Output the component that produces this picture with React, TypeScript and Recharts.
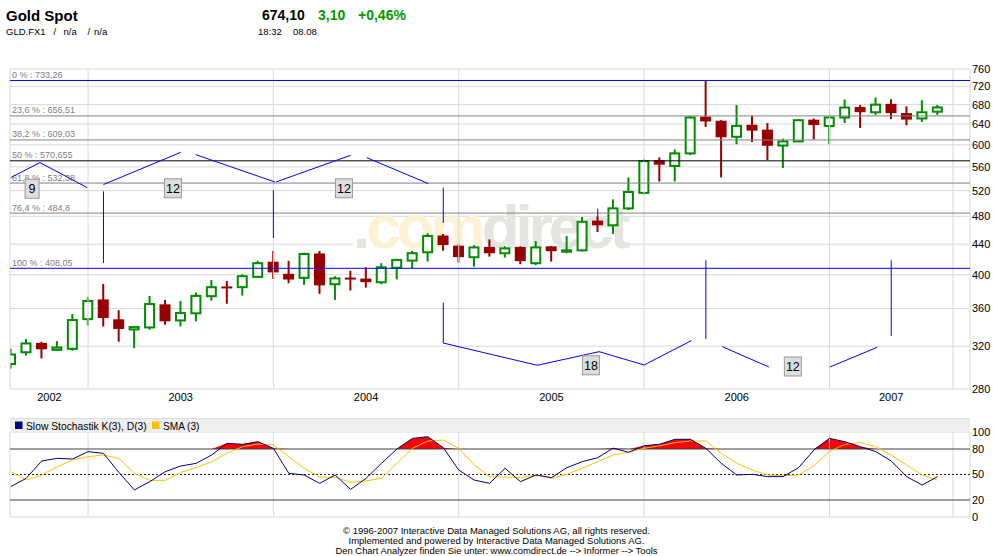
import React from 'react';
import {
  ComposedChart,
  Bar,
  Line,
  Area,
  XAxis,
  YAxis,
  CartesianGrid,
  ReferenceLine,
  ReferenceDot,
  ReferenceArea
} from 'recharts';

const FONT = '"Liberation Sans", Arial, sans-serif';
const GREEN = '#008c00';
const RED = '#990000';
const GRID = '#d8d8d8';
const BLUE = '#0000ff';

// monthly candles, index 0 = Aug 2002 ... index 60 = Aug 2007
const opens = [
  302.7, 314, 322.8, 316.4, 317.4, 348.2, 369.7, 347.5, 337.2, 339.3,
  364.1, 346.8, 354.6, 374.1, 385, 384.7, 397.3, 415.9, 400.5, 396.1,
  426.7, 388.3, 395.8, 394.6, 390.7, 408.8, 418, 429, 451.3, 437.2,
  422.4, 435.5, 427.7, 435.5, 414.6, 436.3, 429.8, 431.6, 472.8, 466.7,
  492, 516.3, 570.7, 561.6, 584.1, 654, 645.7, 615.1, 637.6, 628,
  598.6, 606.3, 647.8, 636.3, 653.3, 673.9, 664, 680.6, 661.3, 651.3, 665.2
];
const highs = [
  317.6, 327.3, 324.5, 325.2, 353.8, 373.2, 388.6, 358.1, 340, 374.4,
  369.7, 368.5, 378.3, 393.4, 392.2, 400.5, 417.8, 430.7, 417.6, 428.5,
  430.7, 398.1, 404.9, 409.3, 414.6, 419.5, 430.7, 455.2, 454.2, 439.5,
  438.6, 446.6, 437.2, 437, 444.2, 437.2, 451.3, 479, 480, 506,
  541.9, 573.2, 576.8, 591.3, 656, 733.3, 647.8, 679.4, 656.8, 642.1,
  611.6, 650, 651.3, 656, 690.9, 679.4, 695.3, 691.5, 676.5, 689.3, 679.4
];
const lows = [
  298.4, 310.8, 308, 315.5, 315.5, 341.4, 340.4, 324.5, 318, 336.9,
  342.2, 340.4, 345.8, 368.9, 365.3, 374.8, 396.5, 394.6, 389.5, 387.5,
  376.8, 369.7, 380.7, 384.3, 388.3, 394.2, 408, 416.7, 431.1, 415.4,
  410.1, 423.2, 422, 413.3, 412, 416.7, 427.7, 430, 457, 454.2,
  489.4, 513.8, 535, 535, 581, 634.4, 541.9, 601, 605.1, 571.8,
  558.1, 605, 610.3, 601, 642.1, 632.4, 658.6, 650, 637.6, 644, 658.6
];
const closes = [
  311.8, 322.8, 317.4, 318.7, 347.2, 368.5, 350, 338.2, 339.7, 365,
  346.4, 354.9, 374.4, 384.7, 384, 398.1, 414.6, 403.5, 394.6, 426.7,
  387.5, 395.4, 395, 391.4, 409.3, 418.9, 427.7, 451.3, 439.5, 423.2,
  435.5, 428.4, 434.2, 418, 435.5, 431.1, 431.6, 471.8, 467.3, 492,
  517.8, 570.1, 564.7, 584.1, 653.3, 646.3, 615.1, 636.3, 628, 599.1,
  606.3, 647.8, 639, 653.3, 673.9, 665.2, 680, 663.3, 650, 664, 674.1
];

// Slow Stochastik K(3), D(3) and its SMA (3)
const stochK = [
  35.7, 45.5, 65.9, 69, 68.2, 76.9, 74.9, 52.5, 31.8, 41.6,
  53.3, 60, 63.1, 72.9, 86.7, 85.5, 88.6, 80.8, 51.4, 49.4,
  39.6, 49.4, 32.5, 45.5, 63.1, 80, 92.5, 94.5, 81.6, 55.3,
  43.5, 39.6, 57.3, 41.6, 49.4, 46.3, 58, 65.1, 69.8, 81,
  76.1, 83.9, 85.5, 91.4, 91.4, 80.8, 63.1, 49.4, 50.2, 47.5,
  47.5, 58, 78.8, 92.5, 88.6, 82.7, 76.9, 65.9, 47.5, 37.6, 47.5
];
const stochSma = [
  53.3, 43.5, 49.4, 59.2, 67, 71, 72.9, 69, 51.4, 43.1,
  43.1, 52.5, 58, 65, 74.9, 82.7, 85.9, 84.7, 71, 57.3,
  47, 46.7, 40.8, 42.4, 45.5, 63.1, 80.8, 89.4, 90.6, 80.8,
  61.2, 47.5, 47, 46.3, 49.4, 45.5, 50.2, 57.3, 65.1, 72.9,
  76.1, 80.8, 83.9, 87.5, 89.4, 89.4, 74.9, 63.1, 55.3, 49.4,
  48.6, 49.4, 60.4, 76.9, 85.5, 87.5, 82.7, 72.9, 61.2, 49.4, 43.5
];

const yearLabels = ['2002', '2003', '2004', '2005', '2006', '2007'];
const yearLabelIdx = [2.5, 11, 23, 35, 47, 57];
const gridIdx = [5, 17, 29, 41, 53, 61];
const priceTicks = [280, 320, 360, 400, 440, 480, 520, 560, 600, 640, 680, 720, 760];
const stochTicks = [0, 20, 50, 80, 100];

const X_MIN = -0.05;
const X_MAX = 62.1;

// Fibonacci retracement
const fibValues = [733.26, 656.51, 609.03, 570.655, 532.38, 484.8, 408.05];
const fibLabels = [
  '0 % : 733,26',
  '23,6 % : 656,51',
  '38,2 % : 609,03',
  '50 % : 570,655',
  '61,8 % : 532,38',
  '76,4 % : 484,8',
  '100 % : 408,05'
];
const FIB_STROKES = [BLUE, '#808080', '#808080', '#000000', '#808080', '#808080', BLUE];

// cycle lines [x1, y1, x2, y2] in month index / price
const cycleSegments = [
  [0, 541.6, 1.89, 567.5],
  [1.89, 567.5, 4.95, 524.9],
  [6, 518.9, 6, 414.9],
  [6, 529.9, 11.0, 586.0],
  [11.97, 581.8, 17.1, 534.2],
  [17, 520.5, 17, 448.5],
  [17.17, 534.2, 22.0, 580.6],
  [23.04, 576.4, 27.03, 531.5],
  [28, 524.9, 28, 470.1],
  [38, 491.6, 38, 480],
  [28, 366.6, 28, 323.2],
  [28, 323.2, 34.08, 301.5],
  [34.08, 301.5, 38.09, 314.6],
  [38.09, 314.6, 41.0, 301.8],
  [41.0, 301.8, 44.07, 325.7],
  [45, 418.4, 45, 327.3],
  [46.06, 319.6, 49.08, 299.9],
  [53.03, 299.9, 56.09, 318.9],
  [57, 418.4, 57, 330.4]
];
const cycleBoxX = [1.38, 10.5, 21.57, 37.56, 50.63];
const cycleBoxY = [523, 523.8, 523.8, 301.5, 300.4];
const cycleBoxText = ['9', '12', '12', '18', '12'];

const footerLines = [
  '\u00a9 1996-2007 Interactive Data Managed Solutions AG, all rights reserved.',
  'Implemented and powered by Interactive Data Managed Solutions AG.',
  'Den Chart Analyzer finden Sie unter: www.comdirect.de --> Informer --> Tools'
];

const candles = opens.map((o, i) => ({ i, o, h: highs[i], l: lows[i], c: closes[i] }));
const stoch = stochK.map((k, i) => ({ i, k, sma: stochSma[i] }));

const Candle = (props: any) => {
  const { x, y, width, height, payload } = props;
  if (!payload || height == null) return null;
  const { o, h, l, c } = payload;
  const top = Math.min(y, y + height);
  const span = Math.abs(height);
  const lh = Math.log(h);
  const ll = Math.log(l);
  const py = (v: number) => top + (span * (lh - Math.log(v))) / (lh - ll);
  const up = c >= o;
  const color = up ? GREEN : RED;
  const cx = x + width / 2;
  const bt = py(Math.max(o, c));
  const bb = py(Math.min(o, c));
  return (
    <g>
      <line x1={cx} x2={cx} y1={top} y2={top + span} stroke={color} strokeWidth={2} />
      {up ? (
        <rect x={x + 1} y={bt} width={width - 2} height={Math.max(bb - bt, 0.5)} fill="#fff" stroke={color} strokeWidth={2} />
      ) : (
        <rect x={x} y={bt - 0.5} width={width} height={Math.max(bb - bt + 1, 2)} fill={color} />
      )}
    </g>
  );
};

const fibLabel = (text: string) => (p: any) => {
  const vb = p.viewBox || { x: 0, y: 0 };
  return (
    <text x={vb.x + 2} y={vb.y - 2.5} fontSize={9} fill="#808080" fontFamily={FONT}>
      {text}
    </text>
  );
};

const cycleBox = (text: string) => (p: any) => {
  const w = text.length > 1 ? 17 : 14;
  return (
    <g>
      <rect x={p.cx - w / 2} y={p.cy - 9.5} width={w} height={19} fill="#dddddd" stroke="#999999" />
      <text x={p.cx} y={p.cy + 4.5} textAnchor="middle" fontSize={12.5} fill="#000" fontFamily={FONT}>
        {text}
      </text>
    </g>
  );
};

const Watermark = (p: any) => (
  <g>
    <rect x={p.x} y={p.y} width={p.width} height={p.height} fill="#fff" />
    <text x={p.x} y={p.y + 30} fontSize={62} fontWeight="bold" fontFamily={FONT} letterSpacing={-4}>
      <tspan fill="#e4e4e0">.</tspan>
      <tspan fill="#fff2d4">com</tspan>
      <tspan fill="#e4e4e0">direct</tspan>
    </text>
  </g>
);

const axisTick = { fontSize: 11, fill: '#000', fontFamily: FONT };

export default function App() {
  return (
    <div style={{ position: 'absolute', left: 0, top: 0, width: 993, height: 556, background: '#fff', overflow: 'hidden' }}>
      <div style={{ position: 'absolute', left: 0, top: 0 }}>
        <ComposedChart width={993} height={407} data={candles} margin={{ top: 69, right: 0, bottom: 0, left: 10 }}>
          <CartesianGrid vertical={false} stroke={GRID} />
          <XAxis
            dataKey="i"
            type="number"
            domain={[X_MIN, X_MAX]}
            allowDataOverflow
            ticks={yearLabelIdx}
            interval={0}
            tickFormatter={(v: number) => yearLabels[yearLabelIdx.indexOf(v)] || ''}
            axisLine={false}
            tickLine={false}
            tickSize={0}
            tickMargin={4}
            height={18}
            tick={axisTick}
          />
          <YAxis
            orientation="right"
            scale="log"
            domain={[280, 760]}
            allowDataOverflow
            ticks={priceTicks}
            interval={0}
            width={23}
            axisLine={false}
            tickLine={false}
            tickSize={0}
            tickMargin={2}
            tick={axisTick}
          />
          <ReferenceLine x={X_MIN} stroke={GRID} />
          <ReferenceLine x={X_MAX} stroke={GRID} />
          {gridIdx.map((g) => (
            <ReferenceLine key={'g' + g} x={g} stroke={GRID} />
          ))}
          <ReferenceArea x1={22.15} x2={39.9} y1={415.8} y2={477} shape={Watermark} />
          {fibValues.map((v, k) => (
            <ReferenceLine key={'f' + k} y={v} stroke={FIB_STROKES[k]} label={fibLabel(fibLabels[k])} />
          ))}
          {cycleSegments.map((s, k) => (
            <ReferenceLine
              key={'c' + k}
              segment={[{ x: s[0], y: s[1] }, { x: s[2], y: s[3] }]}
              stroke={BLUE}
            />
          ))}
          <Bar dataKey={(d: any) => [d.l, d.h]} barSize={11} shape={Candle} isAnimationActive={false} />
          {cycleBoxX.map((bx, k) => (
            <ReferenceDot key={'b' + k} x={bx} y={cycleBoxY[k]} r={1} shape={cycleBox(cycleBoxText[k])} />
          ))}
        </ComposedChart>
      </div>

      <div style={{ position: 'absolute', left: 0, top: 418 }}>
        <ComposedChart width={993} height={105} data={stoch} margin={{ top: 14, right: 0, bottom: 6, left: 10 }}>
          <XAxis dataKey="i" type="number" domain={[X_MIN, X_MAX]} allowDataOverflow hide />
          <YAxis
            orientation="right"
            domain={[0, 100]}
            ticks={stochTicks}
            interval={0}
            width={23}
            axisLine={false}
            tickLine={false}
            tickSize={0}
            tickMargin={2}
            tick={axisTick}
          />
          <ReferenceLine x={X_MIN} stroke={GRID} />
          <ReferenceLine x={X_MAX} stroke={GRID} />
          {gridIdx.map((g) => (
            <ReferenceLine key={'g' + g} x={g} stroke={GRID} />
          ))}
          <ReferenceLine y={0} stroke={GRID} />
          <ReferenceLine y={100} stroke={GRID} />
          <Area
            dataKey={(d: any) => [80, Math.max(80, d.k)]}
            type="linear"
            fill="#ff0000"
            fillOpacity={1}
            stroke="none"
            isAnimationActive={false}
          />
          <ReferenceLine y={80} stroke="#404040" />
          <ReferenceLine y={20} stroke="#404040" />
          <ReferenceLine y={50} stroke="#222" strokeDasharray="2 2" />
          <Line dataKey="sma" type="linear" stroke="#ffc000" strokeWidth={1} dot={false} isAnimationActive={false} />
          <Line dataKey="k" type="linear" stroke="#000080" strokeWidth={1} dot={false} isAnimationActive={false} />
        </ComposedChart>
      </div>

      <svg width={993} height={556} style={{ position: 'absolute', left: 0, top: 0, pointerEvents: 'none' }} fontFamily={FONT}>
        <text x={6} y={20.5} fontSize={15} fontWeight="bold" fill="#000">Gold Spot</text>
        <text x={6} y={35} fontSize={9.5} fill="#000">GLD.FX1</text>
        <text x={53.5} y={35} fontSize={9.5} fill="#000">/</text>
        <text x={63.5} y={35} fontSize={9.5} fill="#000">n/a</text>
        <text x={87.5} y={35} fontSize={9.5} fill="#000">/</text>
        <text x={94} y={35} fontSize={9.5} fill="#000">n/a</text>
        <text x={262} y={20} fontSize={14} fontWeight="bold" fill="#000">674,10</text>
        <text x={318} y={20} fontSize={14} fontWeight="bold" fill="#009900">3,10</text>
        <text x={358} y={20} fontSize={14} fontWeight="bold" fill="#009900">+0,46%</text>
        <text x={258} y={35} fontSize={9.5} fill="#000">18:32</text>
        <text x={293} y={35} fontSize={9.5} fill="#000">08.08</text>

        <rect x={10} y={418} width={960} height={14} fill="#eeeeee" />
        <line x1={10} x2={970} y1={418.5} y2={418.5} stroke="#dddddd" />
        <rect x={15} y={421.5} width={7.5} height={7.5} fill="#000080" />
        <text x={26} y={429.5} fontSize={10.3} fill="#000">Slow Stochastik K(3), D(3)</text>
        <rect x={152} y={421.5} width={7.5} height={7.5} fill="#ffc000" />
        <text x={163} y={429.5} fontSize={10.1} fill="#000">SMA (3)</text>

        {footerLines.map((t, k) => (
          <text
            key={k}
            x={496.5}
            y={533.5 + k * 10}
            fontSize={9}
            fill="#000"
            textAnchor="middle"
            textLength={[307, 296, 322][k]}
            lengthAdjust="spacingAndGlyphs"
          >
            {t}
          </text>
        ))}
      </svg>
    </div>
  );
}
